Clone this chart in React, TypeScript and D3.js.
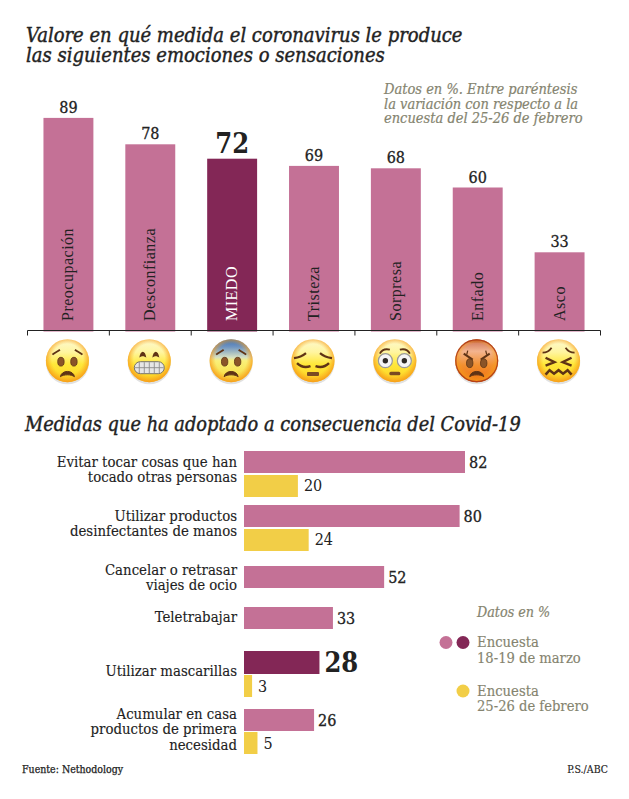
import React from "react";
import * as d3 from "d3";

const emotions = ["Preocupación", "Desconfianza", "MIEDO", "Tristeza", "Sorpresa", "Enfado", "Asco"];
const emotionValues = [89, 78, 72, 69, 68, 60, 33];
const emotionFaces = ["worried", "grimace", "fear", "pensive", "flushed", "angry", "confounded"];

const measures = [
  ["Evitar tocar cosas que han", "tocado otras personas"],
  ["Utilizar productos", "desinfectantes de manos"],
  ["Cancelar o retrasar", "viajes de ocio"],
  ["Teletrabajar"],
  ["Utilizar mascarillas"],
  ["Acumular en casa", "productos de primera", "necesidad"],
];
const marchValues = [82, 80, 52, 33, 28, 26];
const febValues = [20, 24, null, null, 3, 5];

const PINK = "#c47196";
const DARK = "#832756";
const YELLOW = "#f2ce47";
const INK = "#222222";
const GREY = "#85846f";
const SERIF = "'DejaVu Serif Condensed', 'DejaVu Serif', serif";

const x = d3.scaleBand<string>().domain(emotions).range([27.5, 600.5]).paddingInner(0.39).paddingOuter(0.195);
const y = d3.scaleLinear().domain([0, 100]).range([331.5, 91.5]);
const w = d3.scaleLinear().domain([0, 100]).range([244, 513.5]);
// rows are not evenly spaced in the original
const rowTop = d3.scaleOrdinal<number, number>().domain(d3.range(6)).range([451, 505, 566, 607, 651, 709]);

function Base({ id, stops }: { id: string; stops: [number, string][] }) {
  return (
    <>
      <defs>
        <linearGradient id={id} x1="0" y1="0" x2="0" y2="1">
          {stops.map(([o, c]) => (
            <stop key={o} offset={o} stopColor={c} />
          ))}
        </linearGradient>
        <radialGradient id={id + "r"} cx="0.5" cy="0.47" r="0.53">
          <stop offset="0.68" stopColor="#f9a51d" stopOpacity="0" />
          <stop offset="1" stopColor="#f6961a" stopOpacity="0.9" />
        </radialGradient>
      </defs>
      <circle cy={2} r={21.6} fill="#d4d4d4" opacity={0.7} />
      <circle r={21.5} fill={`url(#${id})`} />
      <circle r={21.5} fill={`url(#${id}r)`} />
    </>
  );
}

const BROWN = "#5f3315";
const yellowFace: [number, string][] = [[0, "#fdf9cf"], [0.3, "#fff5a0"], [0.58, "#ffe83a"], [1, "#fdd022"]];

function Eyes({ dx = 6.5, cy = 1 }) {
  return (
    <>
      {[-dx, dx].map((e) => (
        <ellipse key={e} cx={e} cy={cy} rx={3.2} ry={4.4} fill="#8a5428" stroke="#5c3414" strokeWidth={0.8} />
      ))}
    </>
  );
}

function Frown() {
  return <path d="M-7,16 C-6,9 6,9 7,16 C4,13.5 -4,13.5 -7,16Z" fill={BROWN} stroke={BROWN} strokeWidth={1} />;
}

function Face({ kind }: { kind: string }) {
  if (kind === "worried" || kind === "fear") {
    const stops: [number, string][] =
      kind === "fear"
        ? [[0, "#3f70b4"], [0.18, "#6f94c0"], [0.42, "#d5dfc3"], [0.5, "#faf07a"], [1, "#f6d834"]]
        : yellowFace;
    return (
      <g>
        <Base id={kind} stops={stops} />
        <path d="M-15,-6 C-13,-8 -10,-9 -7.5,-11" fill="none" stroke={BROWN} strokeWidth={1.8} />
        <path d="M15,-6 C13,-8 10,-9 7.5,-11" fill="none" stroke={BROWN} strokeWidth={1.8} />
        <Eyes />
        <Frown />
      </g>
    );
  }
  if (kind === "grimace") {
    const cols = d3.range(-10, 11, 5);
    return (
      <g>
        <Base id={kind} stops={yellowFace} />
        <path d="M-10,-3 C-9,-11 -4,-11 -3,-3 C-5,-5 -8,-5 -10,-3Z" fill={BROWN} />
        <path d="M3,-3 C4,-11 9,-11 10,-3 C8,-5 5,-5 3,-3Z" fill={BROWN} />
        <rect x={-15} y={1} width={30} height={12} rx={6} fill="#e6e6e6" stroke="#77736a" strokeWidth={1} />
        {cols.map((c) => (
          <line key={c} x1={c} x2={c} y1={1.5} y2={12.5} stroke="#8b8b8b" strokeWidth={0.9} />
        ))}
        <line x1={-14.5} x2={14.5} y1={7} y2={7} stroke="#8b8b8b" strokeWidth={0.9} />
      </g>
    );
  }
  if (kind === "pensive") {
    return (
      <g>
        <Base id={kind} stops={yellowFace} />
        <path d="M-19,-2.5 C-15,-3 -10,-5 -7,-7.5" fill="none" stroke={BROWN} strokeWidth={2.2} />
        <path d="M19,-2.5 C15,-3 10,-5 7,-7.5" fill="none" stroke={BROWN} strokeWidth={2.2} />
        <path d="M-16,2.5 C-12,6.5 -7,7 -2.5,5.5" fill="none" stroke={BROWN} strokeWidth={2.4} />
        <path d="M16,2.5 C12,6.5 7,7 2.5,5.5" fill="none" stroke={BROWN} strokeWidth={2.4} />
        <rect x={-6} y={11.2} width={12} height={4} rx={1} fill="#7a4a22" />
      </g>
    );
  }
  if (kind === "flushed") {
    return (
      <g>
        <Base id={kind} stops={yellowFace} />
        <path d="M-15,-7 C-13,-11 -9,-12 -5,-11" fill="none" stroke={BROWN} strokeWidth={1.8} />
        <path d="M15,-7 C13,-11 9,-12 5,-11" fill="none" stroke={BROWN} strokeWidth={1.8} />
        {[-9.5, 9.5].map((e) => (
          <g key={e}>
            <circle cx={e} cy={0} r={7} fill="#f5f5f5" stroke="#9a9a9a" strokeWidth={1.2} />
            <circle cx={e} cy={0} r={2.7} fill="#2e2a26" />
          </g>
        ))}
        <rect x={-5.5} y={11} width={11} height={3.6} rx={1.5} fill="#7a4a22" />
      </g>
    );
  }
  if (kind === "angry") {
    return (
      <g>
        <Base id={kind} stops={[[0, "#a32a14"], [0.1, "#d9866a"], [0.28, "#f3b48f"], [0.6, "#f39030"], [1, "#ee6c10"]]} />
        <circle r={20.9} fill="none" stroke="#a83418" strokeWidth={1.2} opacity={0.85} />
        <path d="M-13,-7 L-4,-1" fill="none" stroke={BROWN} strokeWidth={2} />
        <path d="M13,-7 L4,-1" fill="none" stroke={BROWN} strokeWidth={2} />
        <path d="M-9,-10 L-10,-6" fill="none" stroke={BROWN} strokeWidth={1.2} />
        <path d="M9,-10 L10,-6" fill="none" stroke={BROWN} strokeWidth={1.2} />
        <Eyes dx={7} cy={2.5} />
        <Frown />
      </g>
    );
  }
  return (
    <g>
      <Base id={kind} stops={yellowFace} />
      <path d="M-16,-8 C-13,-8 -9,-10 -7,-13" fill="none" stroke={BROWN} strokeWidth={1.8} />
      <path d="M16,-8 C13,-8 9,-10 7,-13" fill="none" stroke={BROWN} strokeWidth={1.8} />
      <path d="M-13,-3 L-4,1.5 L-13,5" fill="none" stroke={BROWN} strokeWidth={2.4} />
      <path d="M13,-3 L4,1.5 L13,5" fill="none" stroke={BROWN} strokeWidth={2.4} />
      <path d="M-13,14 L-9,9.5 L-4.5,13 L0,9.5 L4.5,13 L9,9.5 L13,14" fill="none" stroke={BROWN} strokeWidth={2.6} />
    </g>
  );
}

export default function App() {
  const ticks = [...emotions.map((e) => x(e)! - (x.step() * 0.39) / 2), 600.5];
  return (
    <svg width={629} height={799} style={{ position: "absolute", left: 0, top: 0, background: "#fff" }} fontFamily={SERIF}>
      <g fontSize={20} fontStyle="italic" fill={INK} stroke={INK} strokeWidth={0.4}>
        <text x={26} y={42}>Valore en qué medida el coronavirus le produce</text>
        <text x={26} y={62}>las siguientes emociones o sensaciones</text>
      </g>
      <g fontSize={14.5} fontStyle="italic" fill={GREY} stroke={GREY} strokeWidth={0.2}>
        <text x={384} y={94}>Datos en %. Entre paréntesis</text>
        <text x={384} y={109}>la variación con respecto a la</text>
        <text x={384} y={123}>encuesta del 25-26 de febrero</text>
      </g>

      {emotions.map((e, i) => {
        const top = y(emotionValues[i]);
        const hi = e === "MIEDO";
        const cx = x(e)! + x.bandwidth() / 2;
        return (
          <g key={e}>
            <rect x={x(e)} y={top} width={x.bandwidth()} height={y(0) - top} fill={hi ? DARK : PINK} />
            <text
              x={cx}
              y={top - (hi ? 6 : 5)}
              textAnchor="middle"
              fontSize={hi ? 27 : 16}
              fontWeight={hi ? 700 : 400}
              fill={INK}
              stroke={hi ? "none" : INK}
              strokeWidth={0.3}
            >
              {emotionValues[i]}
            </text>
            <text
              transform={`translate(${cx + 5},321) rotate(-90)`}
              fontSize={16}
              fontFamily="'Liberation Serif', serif"
              letterSpacing={0.5}
              fill={hi ? "#ffffff" : INK}
            >
              {e}
            </text>
            <g transform={`translate(${cx - 1},360.7)`}>
              <Face kind={emotionFaces[i]} />
            </g>
          </g>
        );
      })}
      <path
        d={`M${ticks[0]},335.5V330.5H${ticks[7]}V335.5 ${ticks.slice(1, 7).map((t) => `M${t},330.5V335.5`).join(" ")}`}
        fill="none"
        stroke={INK}
        strokeWidth={1}
      />

      <text x={25} y={431} fontSize={19.8} fontStyle="italic" fill={INK} stroke={INK} strokeWidth={0.4}>
        Medidas que ha adoptado a consecuencia del Covid-19
      </text>

      {measures.map((lines, i) => {
        const top = rowTop(i);
        const hi = i === 4;
        const h = hi ? 23 : 22;
        const feb = febValues[i];
        const labelY = [466.5, 521, 575, 622, 676, 719][i];
        return (
          <g key={i}>
            {lines.map((l, j) => (
              <text key={j} x={237} y={labelY + j * 15.3} textAnchor="end" fontSize={14.8} fill={INK} stroke={INK} strokeWidth={0.12}>
                {l}
              </text>
            ))}
            <rect x={w(0)} y={top} width={w(marchValues[i]) - w(0)} height={h} fill={hi ? DARK : PINK} />
            <text
              x={w(marchValues[i]) + (hi ? 5 : 4)}
              y={top + (hi ? 21 : 16.5)}
              fontSize={hi ? 27 : 16}
              fontWeight={hi ? 700 : 400}
              fill={INK}
              stroke={hi ? "none" : INK}
              strokeWidth={0.3}
            >
              {marchValues[i]}
            </text>
            {feb !== null && (
              <>
                <rect x={w(0)} y={top + h + (i === 5 ? 1 : 2) - (hi ? 1 : 0)} width={w(feb) - w(0)} height={22} fill={YELLOW} />
                <text x={w(feb) + 6} y={top + h + 18} fontSize={16} fill={INK}>
                  {feb}
                </text>
              </>
            )}
          </g>
        );
      })}

      <text x={477} y={617} fontSize={14.2} fontStyle="italic" fill={GREY} stroke={GREY} strokeWidth={0.2}>Datos en %</text>
      <circle cx={446} cy={642.5} r={6.5} fill={PINK} />
      <circle cx={463} cy={642.5} r={6.5} fill={DARK} />
      <text x={477} y={647} fontSize={14.7} fill={GREY} stroke={GREY} strokeWidth={0.15}>Encuesta</text>
      <text x={477} y={663} fontSize={14.6} fill={GREY} stroke={GREY} strokeWidth={0.15}>18-19 de marzo</text>
      <circle cx={463} cy={691} r={6.5} fill={YELLOW} />
      <text x={477} y={696} fontSize={14.7} fill={GREY} stroke={GREY} strokeWidth={0.15}>Encuesta</text>
      <text x={477} y={711} fontSize={14.6} fill={GREY} stroke={GREY} strokeWidth={0.15}>25-26 de febrero</text>

      <text x={22} y={773} fontSize={10.5} fill={INK} stroke={INK} strokeWidth={0.25}>Fuente: Nethodology</text>
      <text x={608} y={773} fontSize={10.5} textAnchor="end" fill={INK} stroke={INK} strokeWidth={0.15}>P.S./ABC</text>
    </svg>
  );
}
